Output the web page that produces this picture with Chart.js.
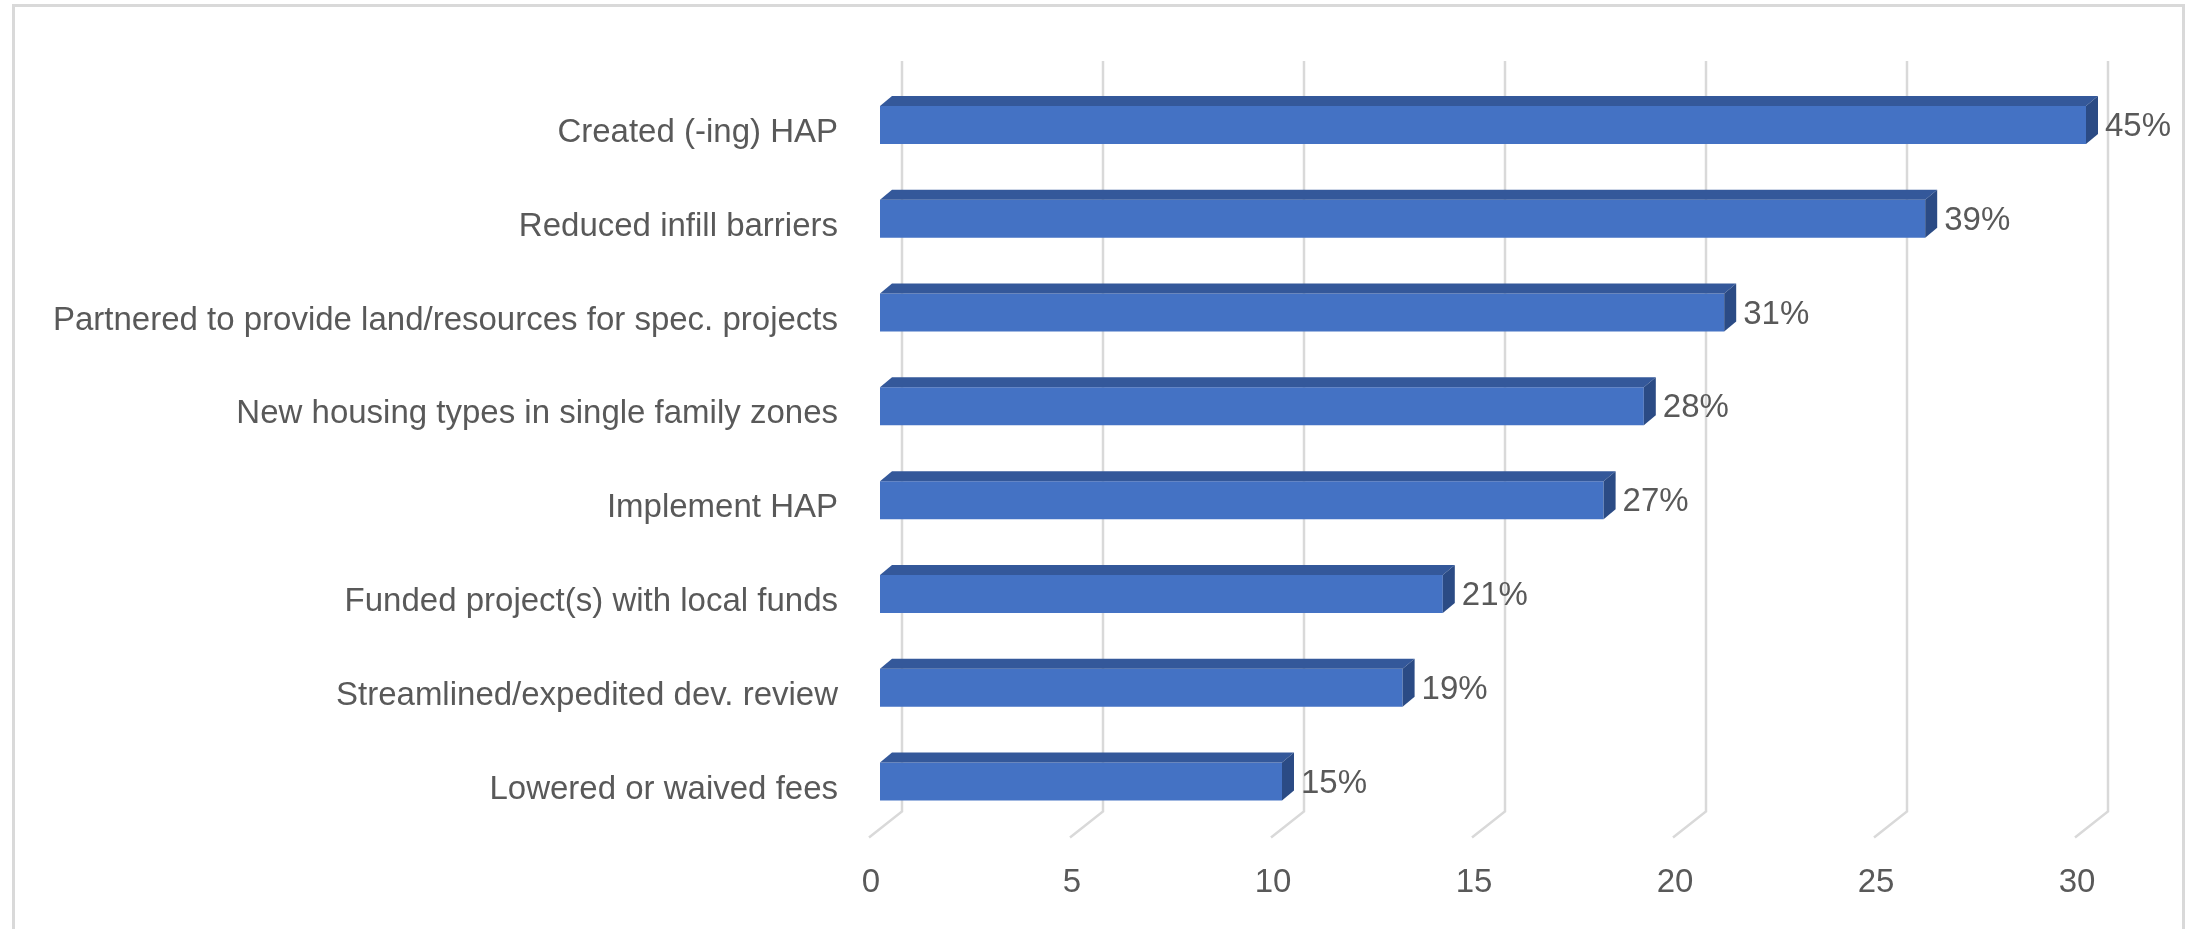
<!DOCTYPE html>
<html>
<head>
<meta charset="utf-8">
<title>Housing actions</title>
<script src="https://cdn.jsdelivr.net/npm/chart.js@4"></script>
<style>
html,body{margin:0;padding:0;background:#fff}
#wrap{position:relative;width:2188px;height:929px;overflow:hidden}
#frame{position:absolute;left:12px;top:4px;width:2173px;height:1000px;border:3px solid #d9d9d9;box-sizing:border-box;pointer-events:none}
canvas{position:absolute;left:0;top:0}
</style>
</head>
<body>
<div id="wrap">
<canvas id="chart" width="2188" height="929"></canvas>
<div id="frame"></div>
</div>

<script>
// ===== DATA =====
const categories=[
  "Created (-ing) HAP",
  "Reduced infill barriers",
  "Partnered to provide land/resources for spec. projects",
  "New housing types in single family zones",
  "Implement HAP",
  "Funded project(s) with local funds",
  "Streamlined/expedited dev. review",
  "Lowered or waived fees"
]
const counts=[30,26,21,19,18,14,13,10]
const percents=["45%","39%","31%","28%","27%","21%","19%","15%"]
const xMin=0, xMax=30, xStep=5

// ===== STYLE =====
const FONT='"Liberation Sans",Arial,sans-serif'
const FONT_SIZE=33
const TEXT='#595959'
const GRID='#d9d9d9'
const FRONT='#4472c4', TOP='#34589a', SIDE='#2b4b85'
const BAR_DX=12, BAR_DY=-10        // bar depth
const WALL_DX=22, WALL_DY=-17      // back wall offset from bar front plane
const FLOOR_DX=-11, FLOOR_DY=9     // floor front edge offset

function poly(ctx,pts){
  ctx.beginPath()
  ctx.moveTo(pts[0][0],pts[0][1])
  for(let i=1;i<pts.length;i++) ctx.lineTo(pts[i][0],pts[i][1])
  ctx.closePath()
  ctx.fill()
}

// ===== 3D LOOK =====
const depth3d={
  id:'depth3d',
  beforeDatasetsDraw(chart){
    const {ctx,scales:{x},chartArea:a}=chart
    ctx.save()
    ctx.strokeStyle=GRID
    ctx.lineWidth=2.5
    x.ticks.forEach(t=>{
      const px=x.getPixelForValue(t.value)
      ctx.beginPath()
      ctx.moveTo(px+WALL_DX,a.top+WALL_DY)
      ctx.lineTo(px+WALL_DX,a.bottom+WALL_DY)
      ctx.lineTo(px+FLOOR_DX,a.bottom+FLOOR_DY)
      ctx.stroke()
    })
    ctx.restore()
  },
  afterDatasetsDraw(chart){
    const ctx=chart.ctx
    const meta=chart.getDatasetMeta(0)
    ctx.save()
    meta.data.forEach((bar,i)=>{
      const p=bar.getProps(['x','y','base','height'],true)
      const top=p.y-p.height/2, bot=p.y+p.height/2
      ctx.fillStyle=TOP
      poly(ctx,[[p.base,top],[p.x,top],[p.x+BAR_DX,top+BAR_DY],[p.base+BAR_DX,top+BAR_DY]])
      ctx.fillStyle=SIDE
      poly(ctx,[[p.x,top],[p.x+BAR_DX,top+BAR_DY],[p.x+BAR_DX,bot+BAR_DY],[p.x,bot]])
      ctx.fillStyle=TEXT
      ctx.font=FONT_SIZE+'px '+FONT
      ctx.textAlign='left'
      ctx.textBaseline='middle'
      ctx.fillText(percents[i],p.x+BAR_DX+7,p.y+2)
    })
    ctx.restore()
  }
}

Chart.defaults.color=TEXT
Chart.defaults.font.family=FONT
Chart.defaults.font.size=FONT_SIZE

new Chart(document.getElementById('chart'),{
  type:'bar',
  data:{
    labels:categories,
    datasets:[{
      data:counts,
      backgroundColor:FRONT,
      borderWidth:0,
      barPercentage:0.405,
      categoryPercentage:1
    }]
  },
  options:{
    indexAxis:'y',
    responsive:false,
    animation:false,
    layout:{padding:{left:0,right:102,top:78,bottom:0}},
    plugins:{legend:{display:false},tooltip:{enabled:false}},
    scales:{
      x:{
        min:xMin,max:xMax,
        ticks:{stepSize:xStep,padding:35,labelOffset:-9},
        grid:{display:false,drawTicks:false},
        border:{display:false},
        afterFit(s){s.height=100.5}
      },
      y:{
        ticks:{padding:42,labelOffset:8},
        grid:{display:false,drawTicks:false},
        border:{display:false},
        afterFit(s){s.width=880}
      }
    }
  },
  plugins:[depth3d]
})
</script>
</body>
</html>
